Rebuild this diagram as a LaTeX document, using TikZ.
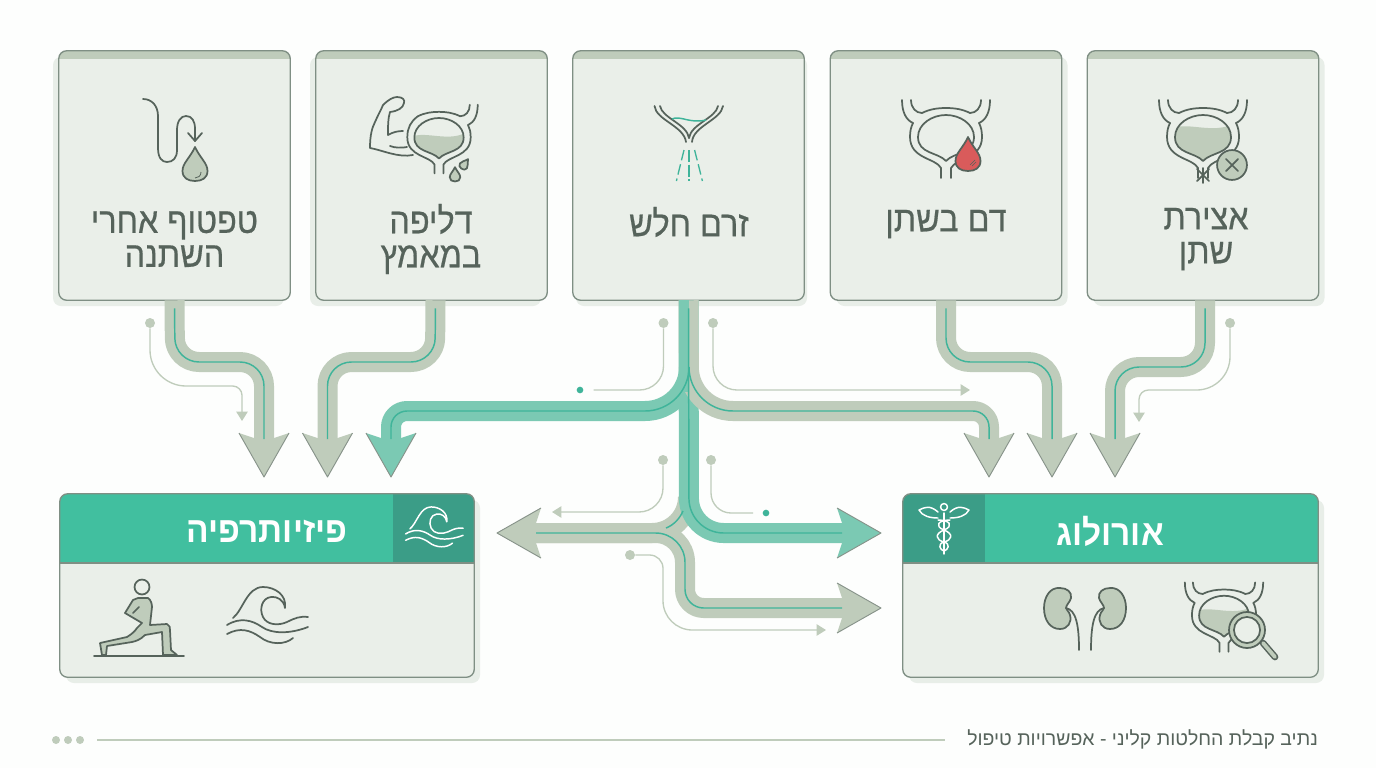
\documentclass[tikz,border=0pt]{standalone}
\usepackage{fontspec}
\usetikzlibrary{calc,arrows.meta}
\TeXXeTstate=1
\newfontfamily\hebfont[Script=Hebrew]{Liberation Sans}
\newfontfamily\hebmed[Script=Hebrew,FakeBold=0.5,FakeStretch=0.9]{Liberation Sans}
\newfontfamily\hebtitle[Script=Hebrew,FakeStretch=0.93]{Liberation Sans Bold}
\definecolor{bgc}{HTML}{FDFEFD}
\definecolor{cardc}{HTML}{EAEFE9}
\definecolor{shadc}{HTML}{E8EEE8}
\definecolor{edgec}{HTML}{7F8F84}
\definecolor{graypipe}{HTML}{BFCCBB}
\definecolor{tealpipe}{HTML}{7BC9B3}
\definecolor{tealthin}{HTML}{3FB49A}
\definecolor{headc}{HTML}{41BF9F}
\definecolor{headd}{HTML}{3B9D87}
\definecolor{inkc}{HTML}{56635B}
\definecolor{tipedge}{HTML}{87938A}
\definecolor{bloodc}{HTML}{D95B5B}
\tikzset{
  x=0.75pt,y=-0.75pt,
  cardnode/.style={rectangle,inner sep=0pt,rounded corners=6pt,fill=cardc},
  cardline/.style={draw=edgec,line width=1pt,rounded corners=6pt},
  pipe/.style={draw=#1,line width=15pt,rounded corners=18pt,line cap=butt,line join=round},
  thinpipe/.style={draw=tealthin,line width=1.1pt,rounded corners=18pt},
  anno/.style={draw=graypipe,line width=1pt,rounded corners=18pt},
  annotip/.style={-{Triangle[length=7pt,width=8.5pt]}},
  dotn/.style={circle,fill=graypipe,inner sep=0pt,minimum size=7.5pt},
  tealdot/.style={circle,fill=tealthin,inner sep=0pt,minimum size=5pt},
  ink/.style={draw=inkc,line width=1.3pt,line cap=round,line join=round},
  whiteink/.style={draw=white,line width=1.1pt,line cap=round,line join=round},
  label/.style={inner sep=0pt,text=inkc,font=\hebmed\fontsize{27}{25.5}\selectfont,align=center},
  title/.style={inner sep=0pt,text=white,font=\hebtitle\fontsize{27}{30}\selectfont},
}
\newcommand\heb[1]{\beginR #1\endR}
\newcommand\card[6]{% name cx cy w h shadow-dx
  \fill[shadc,rounded corners=6pt] ({#2-#4/2+#6},{#3-#5/2+6}) rectangle ({#2+#4/2+#6},{#3+#5/2+6});
  \node[cardnode,minimum width=#4*0.75pt,minimum height=#5*0.75pt] (#1) at (#2,#3) {};
}
\newcommand\arrowhead[3]{% tip rotation colour
  \begin{scope}[shift={(#1)},rotate=#2]
    \fill[#3] (-25,-44) -- (-10,-39) -- (10,-39) -- (25,-44) -- (0,0) -- cycle;
    \draw[tipedge,line width=0.7pt,line join=round] (-25,-44) -- (0,0) -- (25,-44);
  \end{scope}
}
\newcommand\pipeline[4]{% colour path tip rotation
  \draw[pipe=#1] #2;
  \arrowhead{#3}{#4}{#1}
  \draw[thinpipe,shorten <=6pt] #2;
}
\newcommand\innerwall{(0,21) .. controls (-8,12) and (-28,14) .. (-28,-3) .. controls (-28,-16) and (-14,-25) .. (0,-25) .. controls (14,-25) and (28,-16) .. (28,-3) .. controls (28,14) and (8,12) .. (0,21)}
\newcommand\bladderbody{%
  \draw[ink] (-33,-17) .. controls (-35,-13) and (-36,-9) .. (-36,-3) .. controls (-36,19) and (-10,18) .. (-5,28) -- (-5,38);
  \draw[ink] (33,-17) .. controls (35,-13) and (36,-9) .. (36,-3) .. controls (36,19) and (10,18) .. (5,28) -- (5,38);
  \draw[ink] (-24,-27) .. controls (-16,-31) and (-8,-32) .. (0,-32) .. controls (8,-32) and (16,-31) .. (24,-27);
  \draw[ink] \innerwall -- cycle;
}
\newcommand\closeleft{%
  \draw[ink] (-33,-17) .. controls (-31,-21) and (-28,-24) .. (-24,-27);
}
\newcommand\tubeleft{%
  \draw[ink] (-44,-40) .. controls (-44,-28) and (-40,-20) .. (-33,-17);
  \draw[ink] (-35,-40) .. controls (-35,-32) and (-30,-27) .. (-24,-27);
}
\newcommand\tuberight{%
  \draw[ink] (44,-40) .. controls (44,-28) and (40,-20) .. (33,-17);
  \draw[ink] (35,-40) .. controls (35,-32) and (30,-27) .. (24,-27);
}
\newcommand\bladderwater[1]{%
  \begin{scope}
    \clip \innerwall -- cycle;
    \fill[graypipe] (-30,#1) .. controls (-15,{#1-6}) and (10,{#1+6}) .. (30,{#1-4}) -- (30,40) -- (-30,40) -- cycle;
  \end{scope}
}
\newcommand\dropshape{(0,-21) .. controls (-5,-10) and (-12.5,-5) .. (-12.5,3) .. controls (-12.5,10) and (-7,13) .. (0,13) .. controls (7,13) and (12.5,10) .. (12.5,3) .. controls (12.5,-5) and (5,-10) .. (0,-21) -- cycle}
\newcommand\wavepaths[1]{%
  \draw[#1] (233,618) .. controls (243,610) and (247,587) .. (263,587) .. controls (275,587) and (287,595) .. (285,608) .. controls (284,600) and (277,596) .. (271,597) .. controls (262,598) and (259,609) .. (263,617) .. controls (267,625) and (278,626) .. (287,622) .. controls (295,618) and (300,616) .. (308,617);
  \draw[#1] (227,625) .. controls (240,617) and (252,620) .. (262,627) .. controls (272,634) and (290,634) .. (308,627);
  \draw[#1] (227,634) .. controls (240,627) and (250,630) .. (260,637) .. controls (270,645) and (285,645) .. (293,638);
}
\newcommand\kidney{%
  \draw[ink,fill=graypipe] (1060,588) .. controls (1050,587) and (1044,597) .. (1044,608) .. controls (1044,620) and (1050,629) .. (1060,629) .. controls (1068,629) and (1072,622) .. (1070,615) .. controls (1069,611) and (1066,610) .. (1066,608) .. controls (1066,605) and (1070,602) .. (1071,598) .. controls (1072,592) and (1067,588) .. (1060,588) -- cycle;
  \draw[ink] (1066,608) .. controls (1076,610) and (1079,625) .. (1079,650);
}
\newcommand\snakehalf{%
  \draw[whiteink] (938,512) .. controls (930,505) and (925,507) .. (919,510) .. controls (922,516) and (930,518) .. (938,518);
  \draw[whiteink] (950,520) .. controls (938,520) and (934,526) .. (944,530) .. controls (954,534) and (952,540) .. (944,542) .. controls (937,544) and (940,550) .. (944,551);
}
\begin{document}
\begin{tikzpicture}
\useasboundingbox (0,0) rectangle (1376,768);
\fill[bgc] (0,0) rectangle (1376,768);

% top cards
\card{s1}{174.5}{175.5}{231}{249}{-6}
\card{s2}{431.5}{175.5}{231}{249}{-6}
\card{s3}{688.5}{175.5}{231}{249}{3}
\card{s4}{946}{175.5}{231}{249}{6}
\card{s5}{1203}{175.5}{231}{249}{6}
\foreach \n in {s1,s2,s3,s4,s5}{
  \begin{scope}
    \clip[rounded corners=6pt] (\n.south west) rectangle (\n.north east);
    \fill[graypipe] (\n.north west) rectangle ([yshift=-6pt]\n.north east);
  \end{scope}
  \draw[cardline] (\n.south west) rectangle (\n.north east);
}
% bottom cards
\card{p}{267}{585.5}{414}{183}{6}
\card{u}{1110.5}{585.5}{415}{183}{6}
\begin{scope}
  \clip[rounded corners=6pt] (p.south west) rectangle (p.north east);
  \fill[headc] (p.north west) rectangle (474,563);
  \fill[headd] (393,494) rectangle (474,563);
\end{scope}
\begin{scope}
  \clip[rounded corners=6pt] (u.south west) rectangle (u.north east);
  \fill[headc] (u.north west) rectangle (1318,563);
  \fill[headd] (903,494) rectangle (985,563);
\end{scope}
\draw[edgec,line width=0.9pt] (60,563) -- (474,563);
\draw[edgec,line width=0.9pt] (903,563) -- (1318,563);
\draw[cardline] (p.south west) rectangle (p.north east);
\draw[cardline] (u.south west) rectangle (u.north east);

% labels
\node[label] (l1) at (174.5,239) {\heb{טפטוף אחרי}\\\heb{השתנה}};
\node[label] (l2) at (431,239) {\heb{דליפה}\\\heb{במאמץ}};
\node[label] (l3) at (689,222) {\heb{זרם חלש}};
\node[label] (l4) at (946,224) {\heb{דם בשתן}};
\node[label] (l5) at (1206,239) {\heb{אצירת}\\\heb{שתן}};
\node[title] (tp) at (267,531) {\heb{פיזיותרפיה}};
\node[title] (tu) at (1110,531) {\heb{אורולוג}};

% free ends
\coordinate (t1) at (264,477);
\coordinate (t2) at (327.5,477);
\coordinate (t3) at (391,477);
\coordinate (t4) at (989,477);
\coordinate (t5) at (1052,477);
\coordinate (t6) at (1115,477);
\coordinate (tl) at (497,533);
\coordinate (tm) at (881,533);
\coordinate (tb) at (881,608);

% side pipes
\pipeline{graypipe}{(s1.south) -- (175,362) -- (264,362) -- ($(t1)+(0,-38)$)}{t1}{0}
\pipeline{graypipe}{([xshift=3pt]s2.south) -- (435,362) -- (327.5,362) -- ($(t2)+(0,-38)$)}{t2}{0}
\pipeline{graypipe}{(s4.south) -- (946,362) -- (1052,362) -- ($(t5)+(0,-38)$)}{t5}{0}
\pipeline{graypipe}{([xshift=1.5pt]s5.south) -- (1205,367) -- (1115,367) -- ($(t6)+(0,-38)$)}{t6}{0}

% central cluster
\draw[pipe=graypipe,rounded corners=27pt] ($(tl)+(39,0)$) -- (688,533) -- (688,497);
\draw[pipe=graypipe,rounded corners=22pt] ($(tl)+(39,0)$) -- (685,533) [rounded corners=14pt] -- (685,608) -- ($(tb)+(-39,0)$);
\arrowhead{tl}{-90}{graypipe}
\arrowhead{tb}{90}{graypipe}
\draw[pipe=tealpipe,rounded corners=26pt] (s3.south) -- (689,533) -- ($(tm)+(-39,0)$);
\arrowhead{tm}{90}{tealpipe}
\draw[pipe=tealpipe,rounded corners=33pt] (689,367) -- (689,411) [rounded corners=12pt] -- (391,411) -- ($(t3)+(0,-38)$);
\arrowhead{t3}{0}{tealpipe}
\draw[pipe=graypipe,rounded corners=33pt] (s3.south) -- (689,411) [rounded corners=12pt] -- (989,411) -- ($(t4)+(0,-38)$);
\arrowhead{t4}{0}{graypipe}
\fill[tealpipe] (678.5,300) rectangle (689,392);
\draw[thinpipe,rounded corners=22pt] ($(tl)+(39,0)$) -- (685,533) [rounded corners=14pt] -- (685,608) -- ($(tb)+(-39,0)$);
\draw[thinpipe] (666,528) .. controls (674,525) and (680,518) .. (683,511);
\draw[thinpipe,rounded corners=26pt,shorten <=6pt] (s3.south) -- (689,533) -- ($(tm)+(-39,0)$);
\draw[thinpipe,rounded corners=33pt] (689,367) -- (689,411) [rounded corners=12pt] -- (391,411) -- ($(t3)+(0,-38)$);
\draw[thinpipe,rounded corners=33pt] (689,367) -- (689,411) [rounded corners=12pt] -- (989,411) -- ($(t4)+(0,-38)$);

% annotation lines
\node[dotn] (d1) at (150,323) {};
\coordinate (e1) at (242,421);
\draw[anno,annotip,rounded corners=27pt] (d1) -- (150,386) [rounded corners=7pt] -- (242,386) -- (e1);
\node[dotn] (d2) at (663.5,323) {};
\node[tealdot] (d2b) at (580,390) {};
\draw[anno] (d2) -- (663.5,390) -- ([xshift=7.5pt]d2b.east);
\node[dotn] (d3) at (713,323) {};
\coordinate (e3) at (970,390);
\draw[anno,annotip] (d3) -- (713,390) -- (e3);
\node[dotn] (d4) at (1230,323) {};
\coordinate (e4) at (1139,422);
\draw[anno,annotip,rounded corners=25pt] (d4) -- (1230,390) [rounded corners=7pt] -- (1139,390) -- (e4);
\node[dotn] (d5) at (663,460) {};
\coordinate (e5) at (552,512);
\draw[anno,annotip] (d5) -- (663,512) -- (e5);
\node[dotn] (d6) at (711,460) {};
\node[tealdot] (d6b) at (766,513) {};
\draw[anno,rounded corners=15pt] (d6) -- (711,513) -- ([xshift=-7pt]d6b.west);
\node[dotn] (d7) at (630,555) {};
\coordinate (e7) at (826,630);
\draw[anno,annotip,rounded corners=10pt] (d7) -- (663,555) [rounded corners=22pt] -- (663,630) -- (e7);

% footer
\fill[graypipe] (56,740) circle (3pt) (68,740) circle (3pt) (80,740) circle (3pt);
\node[inner sep=0pt,text=inkc,font=\hebfont\fontsize{14.6}{16}\selectfont,anchor=east] (ft) at (1318,739) {\heb{נתיב קבלת החלטות קליני - אפשרויות טיפול}};
\coordinate (fl) at (97,740);
\coordinate (fr) at (945,740);
\draw[graypipe,line width=1pt] (fl) -- (fr);

% ---- icons ----
% icon 1: looping line and drop
\draw[ink] (143,99) .. controls (152,99) and (158,106) .. (158,116) -- (158,148) .. controls (158,158) and (162,162) .. (167,162) .. controls (173,162) and (177,158) .. (177,150) -- (177,130) .. controls (177,121) and (181,116) .. (186,116) .. controls (192,116) and (195,121) .. (195,129) -- (195,141);
\draw[ink] (188,133) -- (195,141) -- (202,133);
\begin{scope}[shift={(195,168)}]
  \draw[ink,fill=graypipe] \dropshape;
  \draw[inkc,line width=0.6pt] (6,4) .. controls (6,8) and (3,10) .. (0,10);
\end{scope}
% icon 2: arm and bladder
\draw[ink] (413,155) .. controls (398,158) and (382,150) .. (370,148) .. controls (370,135) and (372,128) .. (375,122) .. controls (378,115) and (381,110) .. (383,105) .. controls (388,100) and (393,97) .. (397,97) .. controls (403,97) and (405,100) .. (404,103) .. controls (403,108) and (398,111) .. (390,112) .. controls (388,118) and (388,126) .. (388,135) .. controls (393,132) and (398,131) .. (403,131);
\draw[ink] (390,146) .. controls (395,148) and (402,148) .. (407,147);
\begin{scope}[shift={(439,140)},scale=0.88]
  \bladderwater{-4}
  \bladderbody
  \closeleft
  \tuberight
\end{scope}
\begin{scope}[shift={(455,176)},scale=0.42]
  \draw[ink,fill=graypipe] \dropshape;
\end{scope}
\begin{scope}[shift={(464,165)},rotate=-35,scale=0.34]
  \draw[ink,fill=graypipe] \dropshape;
\end{scope}
% icon 3: weak stream
\draw[ink] (654.5,106) .. controls (656,120) and (684,126) .. (686,142);
\draw[ink] (660,106) .. controls (662,118) and (687,124) .. (689,138);
\draw[ink] (723,106) .. controls (721,120) and (693,126) .. (692,142);
\draw[ink] (718,106) .. controls (716,118) and (691,124) .. (689,138);
\draw[tealthin,line width=1.1pt] (672,119) .. controls (680,115) and (690,124) .. (706,120);
\draw[tealthin,line width=1pt,dash pattern=on 9pt off 2pt] (689,150) -- (689,181);
\draw[tealthin,line width=1pt,dash pattern=on 8pt off 3pt] (684,150) -- (676.4,181);
\draw[tealthin,line width=1pt,dash pattern=on 8pt off 3pt] (694.6,150) -- (702.4,181);
% icon 4: blood
\begin{scope}[shift={(946,140)}]
  \bladderbody
  \tubeleft
  \tuberight
\end{scope}
\begin{scope}[shift={(968,158)}]
  \draw[ink,fill=bloodc] \dropshape;
  \draw[inkc,line width=0.5pt] (2,7) -- (7,2) (4,8) -- (8,4);
\end{scope}
% icon 5: retention
\begin{scope}[shift={(1203,140)}]
  \bladderwater{-12}
  \bladderbody
  \tubeleft
  \tuberight
\end{scope}
\draw[ink] (1197,169) -- (1209,181) (1209,169) -- (1197,181) (1203,168) -- (1203,183);
\draw[ink,fill=graypipe] (1232,165) circle (11.2pt);
\draw[ink] (1226,159) -- (1238,171) (1238,159) -- (1226,171);
% physio icons
\draw[ink] (142,587) circle (5.6pt);
\draw[ink,fill=graypipe] (138,598) -- (148,598) .. controls (151,600) and (152,604) .. (152,607) -- (150,625) -- (167,624) .. controls (170,625) and (170,628) .. (170,630) -- (171,650) -- (177,655) -- (163,655) -- (162,632) -- (145,635) .. controls (140,640) and (136,641) .. (132,642) -- (107,646) -- (106,655) -- (102,655) -- (100,643) -- (127,637) .. controls (132,634) and (135,631) .. (137,628) -- (142,623) -- (125,613) -- (133,600) -- cycle;
\draw[ink] (133,613) -- (139,607);
\draw[ink] (94,656) -- (184,656);
\wavepaths{ink}
\begin{scope}[shift={(244.43,90.14)},scale=0.71]
  \wavepaths{whiteink}
\end{scope}
% urologist icons
\kidney
\begin{scope}[shift={(2170,0)},xscale=-1]
  \kidney
\end{scope}
\begin{scope}[shift={(1224,618)},scale=0.89]
  \bladderwater{-8}
  \bladderbody
  \tubeleft
  \tuberight
\end{scope}
\draw[inkc,line width=5pt,line cap=round] (1263,643) -- (1275,657);
\draw[graypipe,line width=2.8pt,line cap=round] (1263,643) -- (1275,657);
\draw[ink,fill=graypipe] (1247,630) circle (13.5pt);
\draw[ink,fill=cardc] (1247,630) circle (9.8pt);
% caduceus
\draw[whiteink] (944,513) -- (944,554);
\draw[whiteink] (944,507) circle (2.6pt);
\snakehalf
\begin{scope}[shift={(1888,0)},xscale=-1]
  \snakehalf
\end{scope}
\end{tikzpicture}
\end{document}
